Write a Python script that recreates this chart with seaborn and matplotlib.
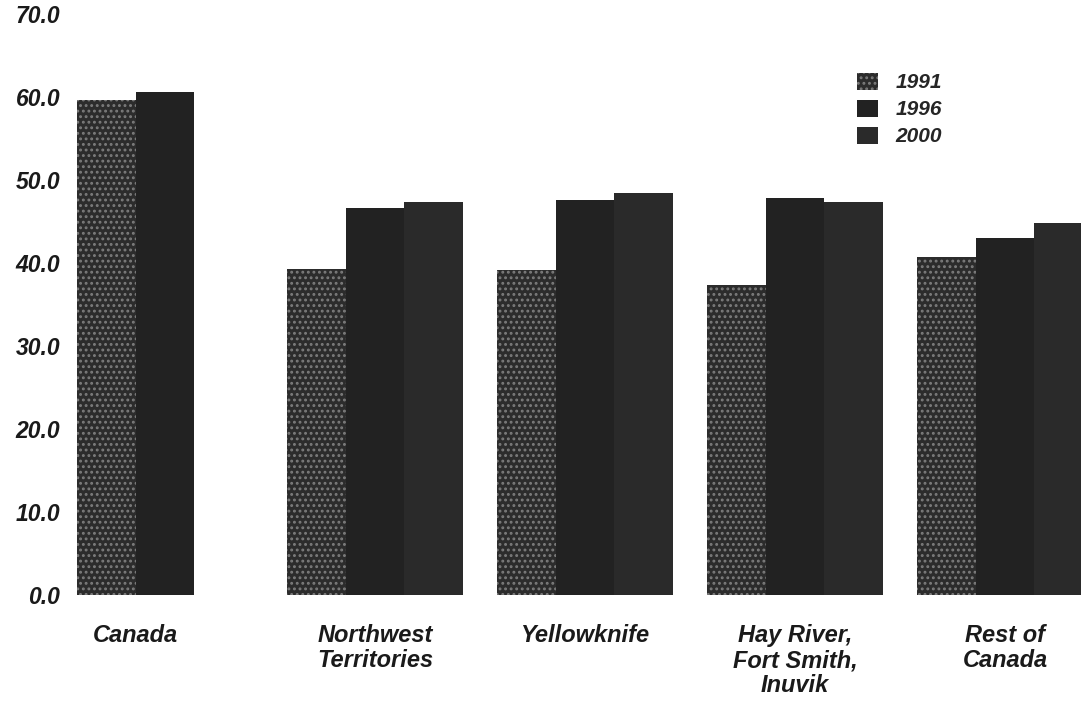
import numpy as np
import pandas as pd
import matplotlib
matplotlib.use("Agg")
import matplotlib.pyplot as plt
import seaborn as sns

# Share of population (%) by region and census year
regions = ["Canada", "Northwest\nTerritories", "Yellowknife",
           "Hay River,\nFort Smith,\nInuvik", "Rest of\nCanada"]
years = ["1991", "1996", "2000"]
values_1991 = [59.7, 39.3, 39.2, 37.4, 40.7]
values_1996 = [60.6, 46.7, 47.6, 47.8, 43.0]
values_2000 = [np.nan, 47.4, 48.4, 47.4, 44.8]
y_ticks = [0, 10, 20, 30, 40, 50, 60, 70]

df = pd.DataFrame({
    "region": regions * 3,
    "year": [years[0]] * 5 + [years[1]] * 5 + [years[2]] * 5,
    "value": values_1991 + values_1996 + values_2000,
})

sns.set_theme(style="white")
plt.rcParams["font.family"] = ["Liberation Sans", "DejaVu Sans"]
plt.rcParams["hatch.linewidth"] = 1.3

fig = plt.figure(figsize=(10.81, 7.06), dpi=100)
ax = fig.add_axes([70 / 1081, 0.157, 1 - 70 / 1081, 0.823])

colors = {"1991": "#2c2c2c", "1996": "#222222", "2000": "#2a2a2a"}
sns.barplot(data=df, x="region", y="value", hue="year", order=regions,
            hue_order=years, palette=colors, width=0.84, errorbar=None,
            saturation=1, ax=ax, legend=True)

for cont in ax.containers:
    for patch in cont:
        patch.set_linewidth(0)

# speckled fill for the 1991 series
for patch in ax.containers[0]:
    patch.set_hatch("...")
    patch.set_edgecolor("#7c7c7c")

ax.set_ylim(0, 70)
ax.set_xlim(-0.452, 4.362)
ax.set_yticks(y_ticks)
ax.set_yticklabels([f"{t:.1f}" for t in y_ticks], fontsize=16.5,
                   fontstyle="italic", fontweight="bold", color="#1a1a1a")

bar_w = 0.84 / 3
ax.set_xticks([0 - bar_w / 2, 1, 2, 3, 4])
ax.set_xticklabels(regions, fontsize=17, fontstyle="italic", fontweight="bold",
                   color="#1a1a1a", linespacing=1.1, va="top")
ax.tick_params(axis="both", length=0)
ax.tick_params(axis="y", pad=7)
ax.tick_params(axis="x", pad=21)
ax.set_xlabel("")
ax.set_ylabel("")
for s in ax.spines.values():
    s.set_visible(False)

handles, labels = ax.get_legend_handles_labels()
for h in handles:
    h.set_linewidth(0)
handles[0].set_hatch("...")
handles[0].set_edgecolor("#7c7c7c")
ax.legend(handles, labels, loc="upper left",
          bbox_to_anchor=(838 / 1081, 1 - 54 / 706), bbox_transform=fig.transFigure,
          frameon=False, handlelength=1.0, handleheight=0.87, handletextpad=0.85,
          labelspacing=0.35,
          prop={"family": "Liberation Sans", "style": "italic",
                "weight": "bold", "size": 15})

fig.savefig("out.png", dpi=100)
